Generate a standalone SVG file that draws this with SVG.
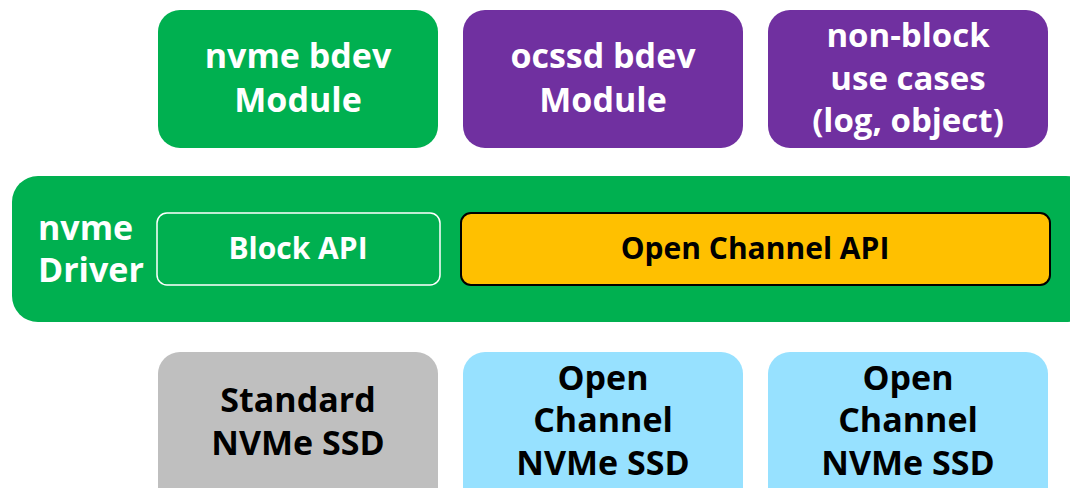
<svg xmlns="http://www.w3.org/2000/svg" width="1070" height="488" viewBox="0 0 1070 488">
<style>
.t{font-family:"Open Sans","Noto Sans","Liberation Sans",sans-serif;font-weight:bold;text-anchor:middle}
.w{fill:#fff}
.k{fill:#000}
.f32{font-size:34px}
.f33{font-size:33px}
.f28{font-size:30px}
</style>
<rect width="1070" height="488" fill="#fff"/>
<g id="nvme-bdev"><rect x="158" y="10" width="280" height="138" rx="22" fill="#00B050"/>
<text class="t w f32" x="298" y="68">nvme bdev</text><text class="t w f32" x="298" y="112">Module</text></g>
<g id="ocssd-bdev"><rect x="463" y="10" width="280" height="138" rx="22" fill="#7030A0"/>
<text class="t w f32" x="603" y="68">ocssd bdev</text><text class="t w f32" x="603" y="112">Module</text></g>
<g id="non-block"><rect x="768" y="10" width="280" height="138" rx="22" fill="#7030A0"/>
<text class="t w f33" x="908" y="47">non-block</text><text class="t w f33" x="908" y="90">use cases</text><text class="t w f33" x="908" y="132">(log, object)</text></g>
<g id="nvme-driver"><rect x="12" y="176" width="1080" height="146" rx="26" fill="#00B050"/>
<text class="t w f32" x="38" y="240" style="text-anchor:start">nvme</text><text class="t w f32" x="38" y="282" style="text-anchor:start">Driver</text></g>
<g id="block-api"><rect x="157" y="213" width="283" height="72" rx="10" fill="none" stroke="#fff" stroke-width="1.5"/>
<text class="t w f28" x="298" y="259">Block API</text></g>
<g id="oc-api"><rect x="461" y="213" width="589" height="72" rx="10" fill="#FFC000" stroke="#000" stroke-width="2"/>
<text class="t k f28" x="755" y="259">Open Channel API</text></g>
<g id="std-ssd"><rect x="158" y="352" width="280" height="160" rx="22" fill="#BFBFBF"/>
<text class="t k f32" x="298" y="412">Standard</text><text class="t k f32" x="298" y="455">NVMe SSD</text></g>
<g id="oc-ssd1"><rect x="463" y="352" width="280" height="160" rx="22" fill="#97E1FF"/>
<text class="t k f32" x="603" y="390">Open</text><text class="t k f32" x="603" y="432">Channel</text><text class="t k f32" x="603" y="475">NVMe SSD</text></g>
<g id="oc-ssd2"><rect x="768" y="352" width="280" height="160" rx="22" fill="#97E1FF"/>
<text class="t k f32" x="908" y="390">Open</text><text class="t k f32" x="908" y="432">Channel</text><text class="t k f32" x="908" y="475">NVMe SSD</text></g>
<g id="connectors"></g>
</svg>
